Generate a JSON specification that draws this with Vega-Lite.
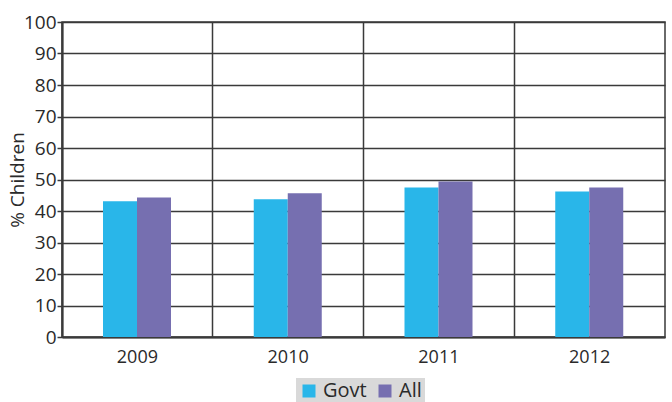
{
  "$schema": "https://vega.github.io/schema/vega-lite/v6.json",
  "width": 603,
  "height": 315,
  "autosize": {"type": "none"},
  "padding": {"left": 62, "top": 22, "right": 7, "bottom": 65},
  "background": "white",
  "config": {
    "font": "Open Sans",
    "view": {"stroke": "#3a3a3a", "strokeWidth": 1.5},
    "axis": {"labelFont": "Open Sans", "titleFont": "Open Sans", "labelColor": "#2a2a2a", "titleColor": "#2a2a2a"}
  },
  "data": {
    "values": [
      {"year": "2009", "type": "Govt", "value": 43.1},
      {"year": "2009", "type": "All", "value": 44.3},
      {"year": "2010", "type": "Govt", "value": 43.7},
      {"year": "2010", "type": "All", "value": 45.6},
      {"year": "2011", "type": "Govt", "value": 47.5},
      {"year": "2011", "type": "All", "value": 49.4},
      {"year": "2012", "type": "Govt", "value": 46.2},
      {"year": "2012", "type": "All", "value": 47.5}
    ]
  },
  "mark": {"type": "bar"},
  "encoding": {
    "x": {
      "field": "year", "type": "nominal",
      "scale": {"paddingInner": 0, "paddingOuter": 0},
      "axis": {
        "title": null, "labelAngle": 0, "labelFontSize": 18, "labelPadding": 11,
        "ticks": false, "grid": true, "bandPosition": 0,
        "gridColor": "#3a3a3a", "gridWidth": 1.5,
        "domainColor": "#3a3a3a", "domainWidth": 2
      }
    },
    "xOffset": {
      "field": "type", "type": "nominal", "sort": ["Govt", "All"],
      "scale": {"range": [41, 109]}
    },
    "y": {
      "field": "value", "type": "quantitative",
      "scale": {"domain": [0, 100]},
      "axis": {
        "title": "% Children", "titleFontSize": 19, "titleFontWeight": "normal", "titlePadding": -4,
        "values": [0,10,20,30,40,50,60,70,80,90,100], "labelOverlap": false,
        "labelFontSize": 19, "labelPadding": 1,
        "tickColor": "#3a3a3a", "tickSize": 5, "tickWidth": 1.5,
        "gridColor": "#3a3a3a", "gridWidth": 1.5,
        "domainColor": "#3a3a3a", "domainWidth": 2
      }
    },
    "color": {
      "field": "type", "type": "nominal", "sort": ["Govt", "All"],
      "scale": {"domain": ["Govt", "All"], "range": ["#29b6e9", "#766fb0"]},
      "legend": {
        "title": null, "orient": "none", "direction": "horizontal",
        "legendX": 234, "legendY": 356,
        "fillColor": "#d9d9d9", "padding": 3,
        "symbolType": "square", "symbolSize": 169, "symbolStrokeWidth": 0, "symbolOpacity": 1,
        "labelFontSize": 20, "labelColor": "#2a2a2a", "labelOffset": 4, "columnPadding": 8
      }
    }
  }
}
